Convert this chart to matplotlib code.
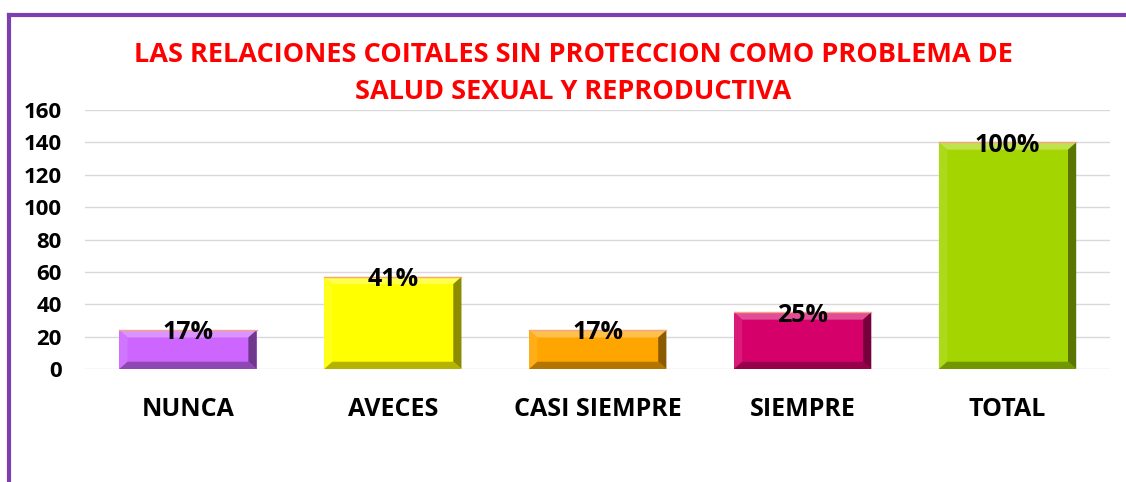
import matplotlib.pyplot as plt
import matplotlib.colors as mcolors
import numpy as np
from matplotlib.patches import Polygon
from matplotlib.lines import Line2D

plt.rcParams['font.family'] = ['Open Sans', 'DejaVu Sans']

categorias = ['NUNCA', 'AVECES', 'CASI SIEMPRE', 'SIEMPRE', 'TOTAL']
valores = [24, 57, 24, 35, 140]
etiquetas = ['17%', '41%', '17%', '25%', '100%']
colores = ['#cc66ff', '#ffff00', '#ffa500', '#d6006b', '#a3d600']
y_ticks = [0, 20, 40, 60, 80, 100, 120, 140, 160]

titulo = "LAS RELACIONES COITALES SIN PROTECCION COMO PROBLEMA DE\nSALUD SEXUAL Y REPRODUCTIVA"


def mezcla(c, otro, f):
    a = np.array(mcolors.to_rgb(c))
    b = np.array(mcolors.to_rgb(otro))
    return tuple(a * (1 - f) + b * f)


fig = plt.figure(figsize=(11.26, 4.82), dpi=100)
ax = fig.add_axes([0.0759, 0.2344, 0.9099, 0.5373])

x = np.arange(len(categorias))
ancho = 0.67
ax.bar(x, valores, width=ancho, color=colores, edgecolor='none', zorder=2)

# efecto biselado
bx = 0.04
by = 4.5
for xi, v, c in zip(x, valores, colores):
    x0, x1 = xi - ancho / 2, xi + ancho / 2
    y0, y1 = 0, v
    caras = [
        ([(x0, y1), (x1, y1), (x1 - bx, y1 - by), (x0 + bx, y1 - by)], mezcla(c, 'white', 0.3)),
        ([(x0, y0), (x0, y1), (x0 + bx, y1 - by), (x0 + bx, y0 + by)], mezcla(c, 'white', 0.1)),
        ([(x1, y0), (x1, y1), (x1 - bx, y1 - by), (x1 - bx, y0 + by)], mezcla(c, 'black', 0.45)),
        ([(x0, y0), (x1, y0), (x1 - bx, y0 + by), (x0 + bx, y0 + by)], mezcla(c, 'black', 0.3)),
    ]
    for pts, col in caras:
        ax.add_patch(Polygon(pts, closed=True, facecolor=col, edgecolor='none', zorder=3))
    ax.plot([x0, x1], [y1, y1], color='#f4a582', lw=1, zorder=4)

for xi, v, t in zip(x, valores, etiquetas):
    ax.annotate(t, (xi, v), xytext=(0, -2), textcoords='offset points',
                ha='center', va='center', fontsize=18, fontweight='bold',
                color='black', zorder=5)

ax.set_xlim(-0.5, len(categorias) - 0.5)
ax.set_ylim(0, 160)
ax.set_yticks(y_ticks)
ax.set_yticklabels([str(t) for t in y_ticks], fontsize=16, fontweight='bold')
ax.set_xticks(x)
ax.set_xticklabels(categorias, fontsize=18, fontweight='bold')
ax.tick_params(axis='both', length=0)
ax.tick_params(axis='x', pad=20)
ax.tick_params(axis='y', pad=17)
ax.grid(axis='y', color='#d9d9d9', lw=1, zorder=0)
ax.set_axisbelow(True)
for s in ax.spines.values():
    s.set_visible(False)

fig.text(0.509, 0.847, titulo, ha='center', va='center', fontsize=19.5,
         fontweight='bold', color='#ff0000', linespacing=1.55)

# marco morado
fig.add_artist(Line2D([0.008, 0.008], [0.0, 0.969], color='#7b3fb0', lw=3))
fig.add_artist(Line2D([0.008, 1.0], [0.969, 0.969], color='#7b3fb0', lw=3))

fig.savefig('out.png', dpi=100, facecolor='white')
